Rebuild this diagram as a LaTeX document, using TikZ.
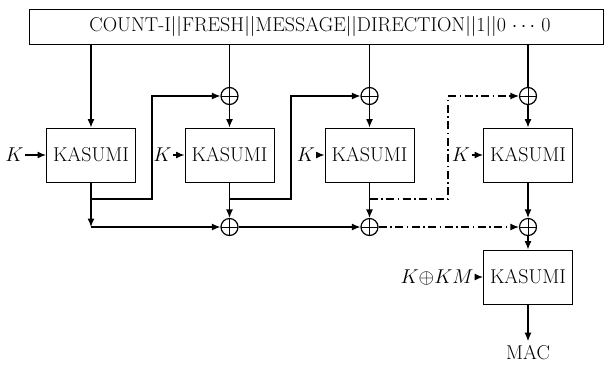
\documentclass[tikz,border=0pt]{standalone}
\usepackage{fix-cm}
\usetikzlibrary{arrows.meta,calc}
\begin{document}
\begin{tikzpicture}[x=1pt,y=-1pt,
  line width=1.2pt,
  font=\fontsize{20}{22}\selectfont,
  arr/.style={-{Latex[length=8.5pt,width=7pt]}},
  dd/.style={dash pattern=on 8pt off 3.5pt on 1.5pt off 3.5pt},
  kbox/.style={draw,line width=1pt,minimum width=89pt,minimum height=54pt,inner sep=0pt},
  xorn/.style={draw,circle,minimum size=17pt,inner sep=0pt,
    path picture={\draw[line width=1pt] (path picture bounding box.north) -- (path picture bounding box.south)
      (path picture bounding box.west) -- (path picture bounding box.east);}},
  lab/.style={inner sep=1pt}]
\useasboundingbox (0,0) rectangle (604,365);
\node[draw,line width=1pt,minimum width=574pt,minimum height=35pt,inner sep=0pt] (top) at (316,26.5)
  {\hspace*{8pt}COUNT-I$||$FRESH$||$MESSAGE$||$DIRECTION$||$1$||$0 $\cdots$ 0};
% KASUMI boxes
\node[kbox] (b1) at (91,155) {KASUMI};
\node[kbox] (b2) at (229.5,155) {KASUMI};
\node[kbox] (b3) at (369.5,155) {KASUMI};
\node[kbox] (b4) at (528,155) {KASUMI};
\node[kbox] (b5) at (528,277) {KASUMI};
% xors
\node[xorn] (x1) at (229.5,96) {};
\node[xorn] (x2) at (369.5,96) {};
\node[xorn] (x3) at (528,96) {};
\node[xorn] (y1) at (229.5,227) {};
\node[xorn] (y2) at (369.5,227) {};
\node[xorn] (y3) at (528,227) {};
% key labels
\node[lab] (k1) at (14.5,155) {$K$};
\node[lab] (k2) at (162.5,155) {$K$};
\node[lab] (k3) at (306,155) {$K$};
\node[lab] (k4) at (461,155) {$K$};
\node[lab] (k5) at (437,277) {$K{\oplus}KM$};
\node[lab] (mac) at (528,353) {MAC};
% coordinates
\coordinate (f1) at (91,199);
\coordinate (g1) at (152,96);
\coordinate (c1) at (91,227);
\coordinate (f2) at (229.5,199);
\coordinate (g2) at (291,96);
\coordinate (f3) at (369.5,199);
\coordinate (g3) at (448,96);
% top box to inputs
\draw[arr] (top.south -| b1) -- (b1.north);
\draw (top.south -| x1) -- (x1.north);
\draw (top.south -| x2) -- (x2.north);
\draw (top.south -| x3) -- (x3.north);
\draw[arr] (x1) -- (b2.north);
\draw[arr] (x2) -- (b3.north);
\draw[arr] (x3) -- (b4.north);
% keys
\draw[arr] (k1) -- (b1.west);
\draw[arr] (k2) -- (b2.west);
\draw[arr] (k3) -- (b3.west);
\draw[arr] (k4) -- (b4.west);
\draw[arr] (k5) -- (b5.west);
% feedback
\draw[arr] (f1) -| (g1) -- (x1.west);
\draw[arr] (f2) -| (g2) -- (x2.west);
\draw[arr,dd] (f3) -| (g3) -- (x3.west);
% outputs
\draw[arr] (b1.south) -- (c1);
\draw[arr] (c1) -- (y1.west);
\draw[arr] (b2.south) -- (y1.north);
\draw[arr] (y1) -- (y2.west);
\draw[arr] (b3.south) -- (y2.north);
\draw[arr,dd] (y2) -- (y3.west);
\draw[arr] (b4.south) -- (y3.north);
\draw[arr] (y3) -- (b5.north);
\draw[arr] (b5.south) -- ($(mac.north)+(0,-3)$);
\end{tikzpicture}
\end{document}
